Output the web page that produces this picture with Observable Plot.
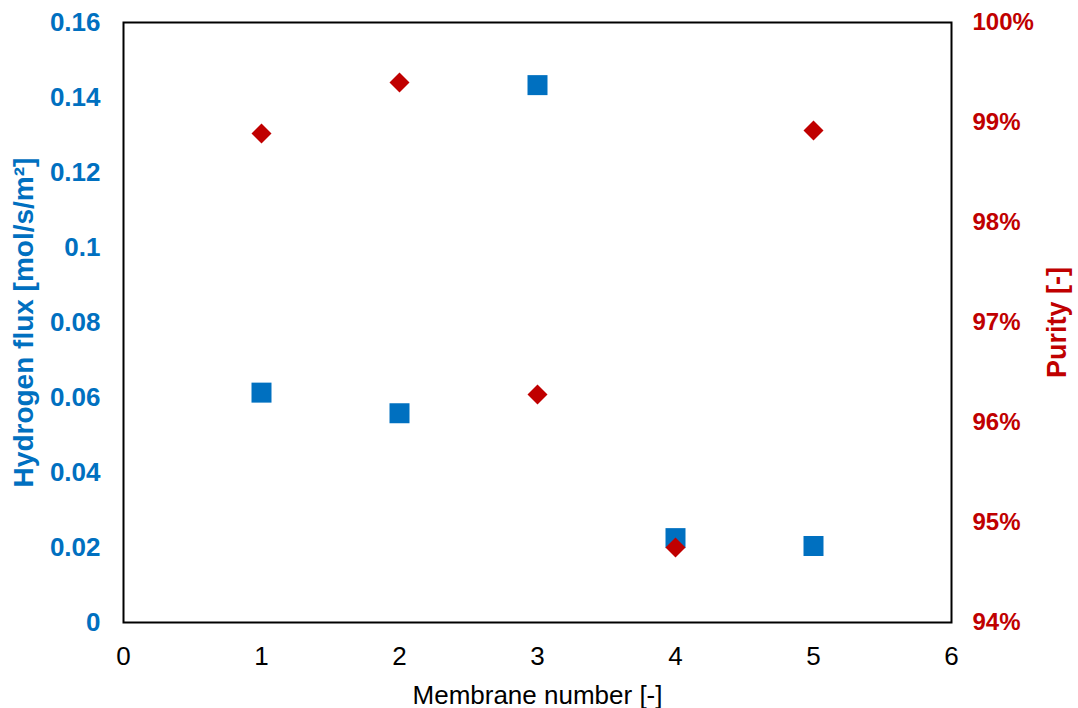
<!DOCTYPE html>
<html><head><meta charset="utf-8">
<script src="https://cdn.jsdelivr.net/npm/d3@7"></script>
<script src="https://cdn.jsdelivr.net/npm/@observablehq/plot@0.6"></script>
<style>html,body{margin:0;padding:0;background:#fff;} #chart svg{display:block;}</style>
</head><body><div id="chart"></div>
<script>
const membranes = [1, 2, 3, 4, 5];
const hydrogenFlux = [0.0613, 0.0558, 0.1433, 0.0225, 0.0204];
const purity = [98.89, 99.40, 96.28, 94.75, 98.92];
const xTicks = [0, 1, 2, 3, 4, 5, 6];
const fluxTicks = [0, 0.02, 0.04, 0.06, 0.08, 0.1, 0.12, 0.14, 0.16];
const purityTicks = [94, 95, 96, 97, 98, 99, 100];

const blue = "#0070C0", red = "#C00000";
const fluxMax = 0.16, pMin = 94, pMax = 100;
const pToF = p => (p - pMin) / (pMax - pMin) * fluxMax;
const fToP = f => pMin + f / fluxMax * (pMax - pMin);

const square = {draw(ctx, size) { const h = Math.sqrt(size / Math.PI); ctx.rect(-h, -h, 2 * h, 2 * h); }};
const diamond = {draw(ctx, size) { const h = Math.sqrt(size / Math.PI); ctx.moveTo(0, -h); ctx.lineTo(h, 0); ctx.lineTo(0, h); ctx.lineTo(-h, 0); ctx.closePath(); }};

const fluxData = membranes.map((m, i) => ({m, v: hydrogenFlux[i]}));
const purityData = membranes.map((m, i) => ({m, p: purity[i]}));

const chart = Plot.plot({
  width: 1078, height: 708,
  marginLeft: 123, marginRight: 127, marginTop: 22, marginBottom: 86,
  style: {fontFamily: "'Liberation Sans', Arial, sans-serif", fontSize: "25px", background: "#fff"},
  x: {domain: [0, 6]},
  y: {domain: [0, fluxMax]},
  marks: [
    Plot.axisX({ticks: xTicks, tickSize: 0, tickPadding: 24, fill: "black",
      tickFormat: d => String(d),
      label: "Membrane number [-]", labelAnchor: "center", labelOffset: 81, labelArrow: "none"}),
    Plot.axisY({anchor: "left", ticks: fluxTicks, tickSize: 0, tickPadding: 23, fontWeight: "bold", fill: blue,
      tickFormat: d => String(+d.toFixed(2)),
      label: "Hydrogen flux [mol/s/m²]", labelAnchor: "center", labelOffset: 110, labelArrow: "none"}),
    Plot.axisY({anchor: "right", ticks: purityTicks.map(pToF), tickSize: 0, tickPadding: 21, fontWeight: "bold", fill: red,
      tickFormat: d => Math.round(fToP(d)) + "%",
      label: "Purity [-]", labelAnchor: "center", labelOffset: 114, labelArrow: "none"}),
    Plot.dot(fluxData, {x: "m", y: "v", symbol: square, r: 10, fill: blue, stroke: null}),
    Plot.dot(purityData, {x: "m", y: d => pToF(d.p), symbol: diamond, r: 10, fill: red, stroke: null}),
    Plot.frame({stroke: "black", strokeWidth: 2})
  ]
});
document.getElementById("chart").appendChild(chart);

// font sizes per axis part
const svg = d3.select(chart.tagName === "svg" ? chart : chart.querySelector("svg"));
function setSize(sel, size) {
  sel.style("font-size", size);
  sel.selectAll("text").style("font-size", size);
}
setSize(svg.selectAll('g[aria-label="x-axis tick label"]'), "26px");
setSize(svg.selectAll('g[aria-label="x-axis label"]'), "26px");
const yTickGroups = svg.selectAll('g[aria-label="y-axis tick label"]').nodes();
if (yTickGroups[0]) setSize(d3.select(yTickGroups[0]), "26px");
if (yTickGroups[1]) setSize(d3.select(yTickGroups[1]), "24px");
const yLabelGroups = svg.selectAll('g[aria-label="y-axis label"]').nodes();
if (yLabelGroups[0]) setSize(d3.select(yLabelGroups[0]), "28px");
if (yLabelGroups[1]) setSize(d3.select(yLabelGroups[1]), "27px");
</script>
</body></html>
